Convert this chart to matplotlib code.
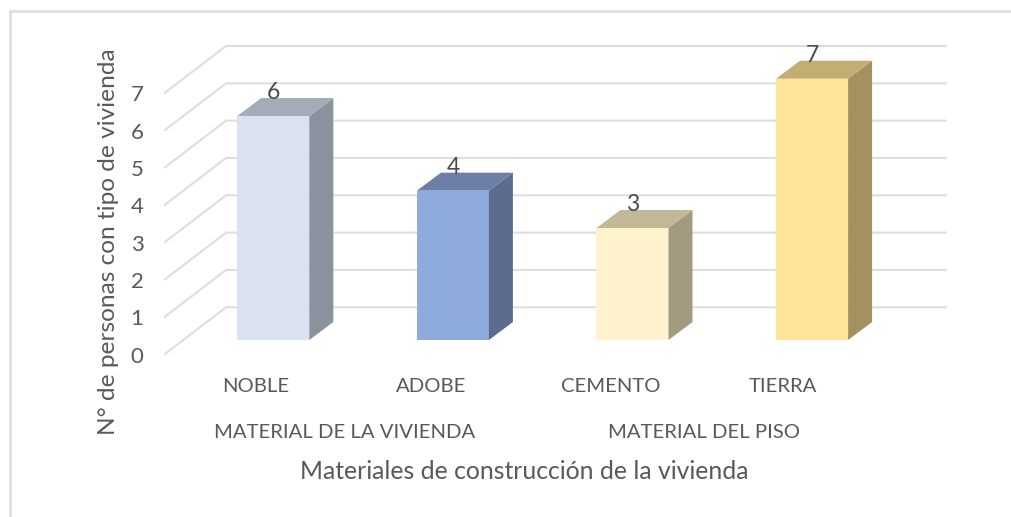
import matplotlib
matplotlib.use("Agg")
import matplotlib.pyplot as plt

# Data
categories = ["NOBLE", "ADOBE", "CEMENTO", "TIERRA"]
values = [6, 4, 3, 7]
y_ticks = [0, 1, 2, 3, 4, 5, 6, 7]
groups = ["MATERIAL DE LA VIVIENDA", "MATERIAL DEL PISO"]
x_title = "Materiales de construcción de la vivienda"
y_title = "N° de personas con tipo de vivienda"

# Bar colours: front, side, top
front_colors = ["#DAE1F1", "#8FAADC", "#FFF2CC", "#FEE599"]
side_colors = ["#8A929D", "#5C6C8E", "#A39B7F", "#A3925F"]
top_colors = ["#A4ABB9", "#6C7FA6", "#C1B898", "#C2AE72"]

plt.rcParams["font.family"] = ["Lato", "DejaVu Sans"]

W, H = 1012, 517
fig = plt.figure(figsize=(W / 100, H / 100), dpi=100)
ax = fig.add_axes([0, 0, 1, 1])

# Pixel scale of the category and value axes
cat_px = 179.6
val_px = 37.33
x0_px = 273.3
y0_px = 340.0
ax.set_xlim(-x0_px / cat_px, (W - x0_px) / cat_px)
ax.set_ylim(-(H - y0_px) / val_px, y0_px / val_px)
ax.axis("off")

# Helpers: pixel position in the picture -> data position
def px_x(p):
    return (p - x0_px) / cat_px

def px_y(p):
    return (y0_px - p) / val_px

bar_w = 72.0 / cat_px
depth_x = 24.0 / cat_px
depth_y = 18.0 / val_px

# Grid on the back wall and side wall
back_y = px_y(307.3)
front_y = px_y(354.0)
wall_l = px_x(165.0)
wall_m = px_x(226.0)
wall_r = px_x(946.0)
grid_col = "#DEDEDE"
for t in y_ticks:
    ax.plot([wall_l, wall_m, wall_r], [t + front_y, t + back_y, t + back_y],
            color=grid_col, lw=1.5, solid_joinstyle="miter", zorder=1)
    ax.text(px_x(137.0), t + front_y - 0.07, str(t), ha="center", va="center",
            fontsize=16, color="#595959")

# Bars
xs = list(range(len(values)))
ax.bar(xs, values, width=bar_w, color=front_colors, zorder=3)
for i, v in enumerate(values):
    l = i - bar_w / 2
    r = i + bar_w / 2
    ax.fill([r, r + depth_x, r + depth_x, r], [0, depth_y, v + depth_y, v],
            color=side_colors[i], lw=0, zorder=3)
    ax.fill([l, l + depth_x, r + depth_x, r], [v, v + depth_y, v + depth_y, v],
            color=top_colors[i], lw=0, zorder=3)
    ax.text(i, v + 0.63, str(v), ha="center", va="center", fontsize=16.5,
            color="#4A4A4A", zorder=4)

# Category labels
for c, p in zip(categories, [256.0, 431.0, 611.0, 783.0]):
    ax.text(px_x(p), px_y(386.0), c, ha="center", va="center",
            fontsize=14.6, color="#595959")
for g, p in zip(groups, [344.5, 704.5]):
    ax.text(px_x(p), px_y(433.0), g, ha="center", va="center", fontsize=14.6, color="#595959")

# Axis titles
ax.text(px_x(524.0), px_y(471.5), x_title, ha="center", va="center", fontsize=17.8,
        color="#595959")
ax.text(px_x(109.0), px_y(241.5), y_title, ha="center", va="center", rotation=90,
        fontsize=17.6, color="#595959")

# Chart frame
ax.plot([px_x(9.5), px_x(9.5), px_x(W)], [px_y(H), px_y(11.3), px_y(11.3)],
        color="#DEDEDE", lw=2, zorder=1)

plt.savefig("out.png", dpi=100)
